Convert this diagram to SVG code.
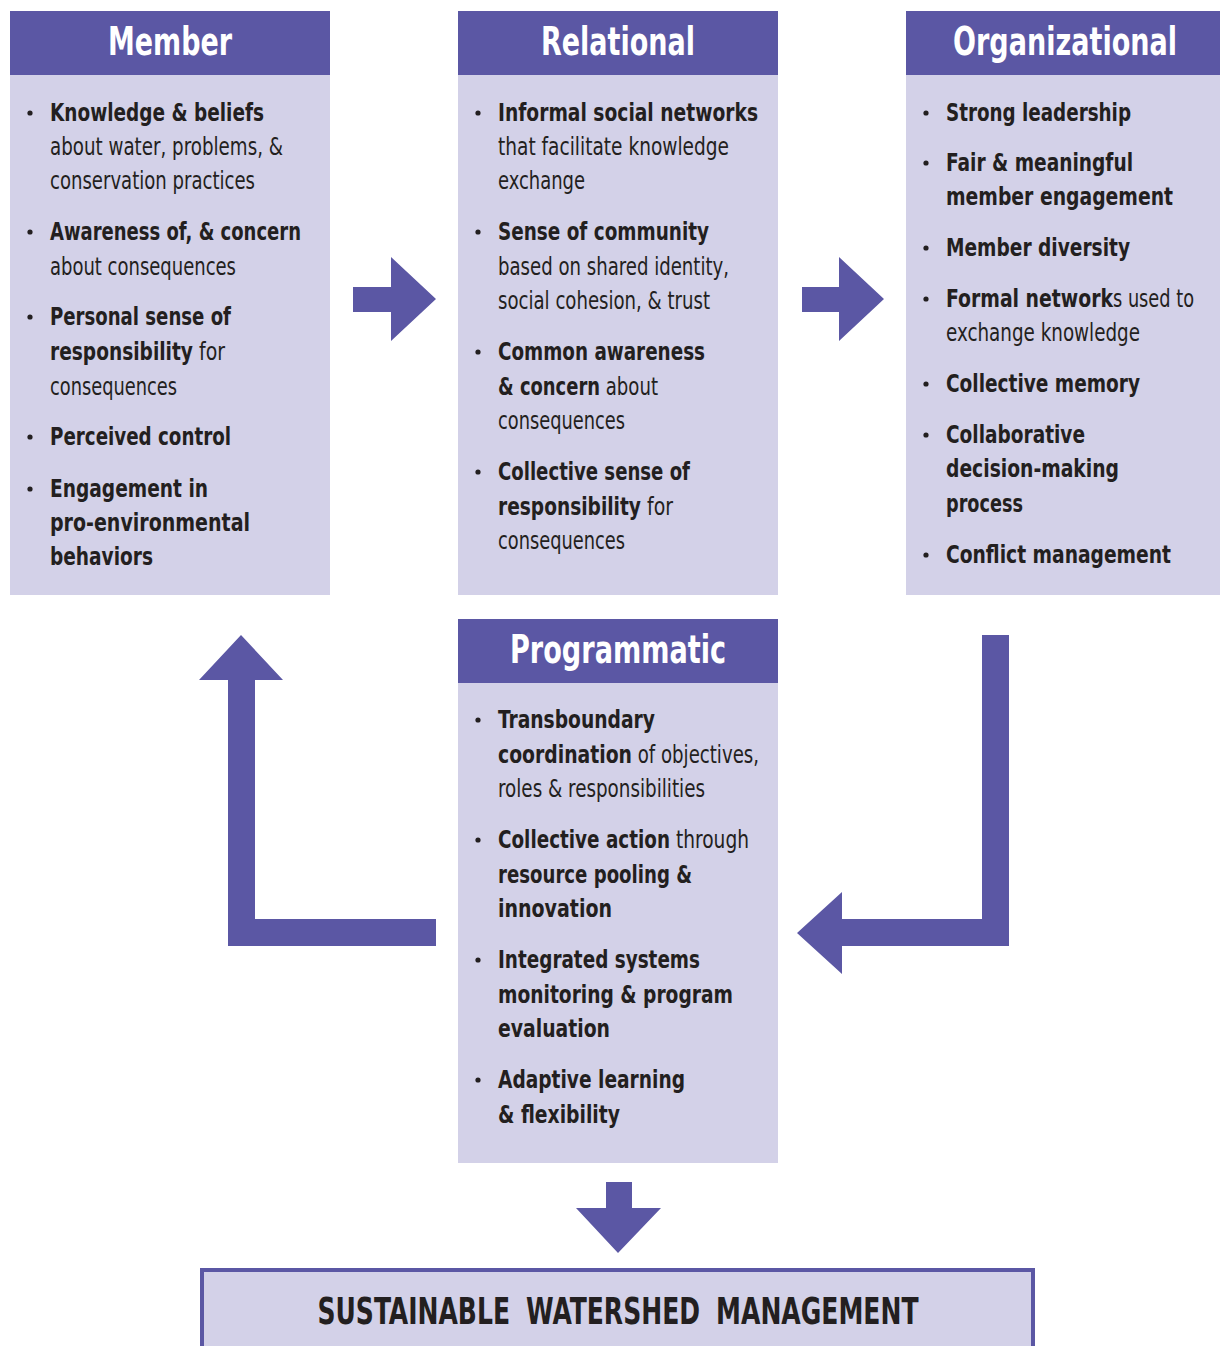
<svg xmlns="http://www.w3.org/2000/svg" width="1220" height="1346" viewBox="0 0 1220 1346">
<defs>
<style>
.hdr{fill:#5B57A4}
.body{fill:#D3D1E8}
.title{font-family:"DejaVu Sans Condensed","Liberation Sans Narrow","Liberation Sans",sans-serif;font-weight:bold;font-size:39px;fill:#ffffff;text-anchor:middle}
.t{font-family:"DejaVu Sans Condensed","Liberation Sans Narrow","Liberation Sans",sans-serif;font-size:25px;fill:#231F20}
.b{font-weight:bold}
.dot{fill:#231F20}
.arrow{fill:#5B57A4}
.final{font-family:"DejaVu Sans Condensed","Liberation Sans Narrow","Liberation Sans",sans-serif;font-weight:bold;font-size:38px;fill:#231F20;text-anchor:middle}
</style>
</defs>
<rect width="1220" height="1346" fill="#ffffff"/>

<g id="connectors">
<polygon class="arrow" points="353,287 391,287 391,257 436,299 391,341 391,312 353,312"/>
<polygon class="arrow" points="802,287 839,287 839,257 884,299 839,341 839,312 802,312"/>
<polygon class="arrow" points="436,919 255,919 255,680 283,680 241,635 199,680 228,680 228,946 436,946"/>
<polygon class="arrow" points="982,635 1009,635 1009,946 842,946 842,974 797,933 842,892 842,919 982,919"/>
<polygon class="arrow" points="606,1182 632,1182 632,1208 661,1208 618,1253 576,1208 606,1208"/>
</g>

<g id="member">
<rect class="hdr" x="10" y="11" width="320" height="64"/>
<rect class="body" x="10" y="75" width="320" height="520"/>
<text class="title" x="170" y="55" textLength="124" lengthAdjust="spacingAndGlyphs">Member</text>
<circle class="dot" cx="30" cy="113" r="2.6"/>
<circle class="dot" cx="30" cy="232" r="2.6"/>
<circle class="dot" cx="30" cy="317" r="2.6"/>
<circle class="dot" cx="30" cy="437" r="2.6"/>
<circle class="dot" cx="30" cy="489" r="2.6"/>
<text class="t b" x="50" y="121" textLength="214" lengthAdjust="spacingAndGlyphs">Knowledge &amp; beliefs</text>
<text class="t" x="50" y="155" textLength="233" lengthAdjust="spacingAndGlyphs">about water, problems, &amp;</text>
<text class="t" x="50" y="189" textLength="205" lengthAdjust="spacingAndGlyphs">conservation practices</text>
<text class="t b" x="50" y="240" textLength="251" lengthAdjust="spacingAndGlyphs">Awareness of, &amp; concern</text>
<text class="t" x="50" y="275" textLength="186" lengthAdjust="spacingAndGlyphs">about consequences</text>
<text class="t b" x="50" y="325" textLength="181" lengthAdjust="spacingAndGlyphs">Personal sense of</text>
<text class="t" x="50" y="360"><tspan class="b" textLength="143" lengthAdjust="spacingAndGlyphs">responsibility</tspan><tspan textLength="32" lengthAdjust="spacingAndGlyphs"> for</tspan></text>
<text class="t" x="50" y="395" textLength="127" lengthAdjust="spacingAndGlyphs">consequences</text>
<text class="t b" x="50" y="445" textLength="181" lengthAdjust="spacingAndGlyphs">Perceived control</text>
<text class="t b" x="50" y="497" textLength="158" lengthAdjust="spacingAndGlyphs">Engagement in</text>
<text class="t b" x="50" y="531" textLength="200" lengthAdjust="spacingAndGlyphs">pro-environmental</text>
<text class="t b" x="50" y="565" textLength="103" lengthAdjust="spacingAndGlyphs">behaviors</text>
</g>

<g id="relational">
<rect class="hdr" x="458" y="11" width="320" height="64"/>
<rect class="body" x="458" y="75" width="320" height="520"/>
<text class="title" x="618" y="55" textLength="154" lengthAdjust="spacingAndGlyphs">Relational</text>
<circle class="dot" cx="478" cy="113" r="2.6"/>
<circle class="dot" cx="478" cy="232" r="2.6"/>
<circle class="dot" cx="478" cy="352" r="2.6"/>
<circle class="dot" cx="478" cy="472" r="2.6"/>
<text class="t b" x="498" y="121" textLength="260" lengthAdjust="spacingAndGlyphs">Informal social networks</text>
<text class="t" x="498" y="155" textLength="231" lengthAdjust="spacingAndGlyphs">that facilitate knowledge</text>
<text class="t" x="498" y="189" textLength="87" lengthAdjust="spacingAndGlyphs">exchange</text>
<text class="t b" x="498" y="240" textLength="211" lengthAdjust="spacingAndGlyphs">Sense of community</text>
<text class="t" x="498" y="275" textLength="231" lengthAdjust="spacingAndGlyphs">based on shared identity,</text>
<text class="t" x="498" y="309" textLength="212" lengthAdjust="spacingAndGlyphs">social cohesion, &amp; trust</text>
<text class="t b" x="498" y="360" textLength="207" lengthAdjust="spacingAndGlyphs">Common awareness</text>
<text class="t" x="498" y="395"><tspan class="b" textLength="102" lengthAdjust="spacingAndGlyphs">&amp; concern</tspan><tspan textLength="58" lengthAdjust="spacingAndGlyphs"> about</tspan></text>
<text class="t" x="498" y="429" textLength="127" lengthAdjust="spacingAndGlyphs">consequences</text>
<text class="t b" x="498" y="480" textLength="192" lengthAdjust="spacingAndGlyphs">Collective sense of</text>
<text class="t" x="498" y="515"><tspan class="b" textLength="143" lengthAdjust="spacingAndGlyphs">responsibility</tspan><tspan textLength="32" lengthAdjust="spacingAndGlyphs"> for</tspan></text>
<text class="t" x="498" y="549" textLength="127" lengthAdjust="spacingAndGlyphs">consequences</text>
</g>

<g id="organizational">
<rect class="hdr" x="906" y="11" width="314" height="64"/>
<rect class="body" x="906" y="75" width="314" height="520"/>
<text class="title" x="1065" y="55" textLength="224" lengthAdjust="spacingAndGlyphs">Organizational</text>
<circle class="dot" cx="926" cy="113" r="2.6"/>
<circle class="dot" cx="926" cy="163" r="2.6"/>
<circle class="dot" cx="926" cy="248" r="2.6"/>
<circle class="dot" cx="926" cy="299" r="2.6"/>
<circle class="dot" cx="926" cy="384" r="2.6"/>
<circle class="dot" cx="926" cy="435" r="2.6"/>
<circle class="dot" cx="926" cy="555" r="2.6"/>
<text class="t b" x="946" y="121" textLength="185" lengthAdjust="spacingAndGlyphs">Strong leadership</text>
<text class="t b" x="946" y="171" textLength="187" lengthAdjust="spacingAndGlyphs">Fair &amp; meaningful</text>
<text class="t b" x="946" y="205" textLength="227" lengthAdjust="spacingAndGlyphs">member engagement</text>
<text class="t b" x="946" y="256" textLength="184" lengthAdjust="spacingAndGlyphs">Member diversity</text>
<text class="t" x="946" y="307"><tspan class="b" textLength="167" lengthAdjust="spacingAndGlyphs">Formal network</tspan><tspan textLength="81" lengthAdjust="spacingAndGlyphs">s used to</tspan></text>
<text class="t" x="946" y="341" textLength="194" lengthAdjust="spacingAndGlyphs">exchange knowledge</text>
<text class="t b" x="946" y="392" textLength="194" lengthAdjust="spacingAndGlyphs">Collective memory</text>
<text class="t b" x="946" y="443" textLength="139" lengthAdjust="spacingAndGlyphs">Collaborative</text>
<text class="t b" x="946" y="477" textLength="173" lengthAdjust="spacingAndGlyphs">decision-making</text>
<text class="t b" x="946" y="512" textLength="77" lengthAdjust="spacingAndGlyphs">process</text>
<text class="t b" x="946" y="563" textLength="225" lengthAdjust="spacingAndGlyphs">Conflict management</text>
</g>

<g id="programmatic">
<rect class="hdr" x="458" y="619" width="320" height="64"/>
<rect class="body" x="458" y="683" width="320" height="480"/>
<text class="title" x="618" y="663" textLength="216" lengthAdjust="spacingAndGlyphs">Programmatic</text>
<circle class="dot" cx="478" cy="720" r="2.6"/>
<circle class="dot" cx="478" cy="840" r="2.6"/>
<circle class="dot" cx="478" cy="960" r="2.6"/>
<circle class="dot" cx="478" cy="1080" r="2.6"/>
<text class="t b" x="498" y="728" textLength="157" lengthAdjust="spacingAndGlyphs">Transboundary</text>
<text class="t" x="498" y="763"><tspan class="b" textLength="134" lengthAdjust="spacingAndGlyphs">coordination</tspan><tspan textLength="127" lengthAdjust="spacingAndGlyphs"> of objectives,</tspan></text>
<text class="t" x="498" y="797" textLength="207" lengthAdjust="spacingAndGlyphs">roles &amp; responsibilities</text>
<text class="t" x="498" y="848"><tspan class="b" textLength="172" lengthAdjust="spacingAndGlyphs">Collective action</tspan><tspan textLength="79" lengthAdjust="spacingAndGlyphs"> through</tspan></text>
<text class="t b" x="498" y="883" textLength="194" lengthAdjust="spacingAndGlyphs">resource pooling &amp;</text>
<text class="t b" x="498" y="917" textLength="114" lengthAdjust="spacingAndGlyphs">innovation</text>
<text class="t b" x="498" y="968" textLength="202" lengthAdjust="spacingAndGlyphs">Integrated systems</text>
<text class="t b" x="498" y="1003" textLength="235" lengthAdjust="spacingAndGlyphs">monitoring &amp; program</text>
<text class="t b" x="498" y="1037" textLength="112" lengthAdjust="spacingAndGlyphs">evaluation</text>
<text class="t b" x="498" y="1088" textLength="187" lengthAdjust="spacingAndGlyphs">Adaptive learning</text>
<text class="t b" x="498" y="1123" textLength="122" lengthAdjust="spacingAndGlyphs">&amp; flexibility</text>
</g>

<g id="outcome">
<rect x="202" y="1270" width="831" height="100" fill="#D3D1E8" stroke="#5B57A4" stroke-width="4"/>
<text class="final" x="618" y="1324" word-spacing="10" textLength="601" lengthAdjust="spacingAndGlyphs">SUSTAINABLE WATERSHED MANAGEMENT</text>
</g>
</svg>
